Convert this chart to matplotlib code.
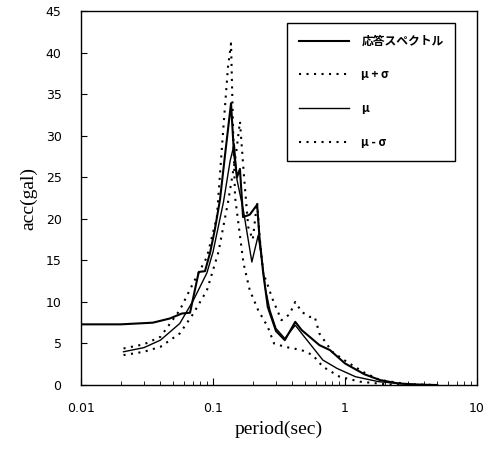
import numpy as np
import matplotlib
matplotlib.use("Agg")
import matplotlib.pyplot as plt
from matplotlib.ticker import FixedLocator, LogLocator, NullFormatter

# observed response spectrum
spec_T = [0.01, 0.02, 0.035, 0.047, 0.058, 0.067, 0.078, 0.087, 0.095, 0.103,
          0.113, 0.123, 0.137, 0.144, 0.152, 0.16, 0.169, 0.19, 0.216, 0.225,
          0.24, 0.26, 0.3, 0.35, 0.42, 0.47, 0.54, 0.64, 0.77, 1.0, 1.4, 1.84,
          2.5, 3.5, 5.0]
spec_acc = [7.3, 7.3, 7.5, 8.0, 8.6, 8.7, 13.6, 13.7, 15.9, 18.6,
            22.3, 27.5, 33.9, 28.0, 25.0, 26.0, 20.2, 20.5, 21.7, 17.8,
            13.5, 9.4, 6.5, 5.4, 7.6, 6.6, 5.8, 4.8, 4.2, 2.6, 1.3, 0.6,
            0.2, 0.05, 0.0]

# mu + sigma
up_T = [0.021, 0.03, 0.04, 0.056, 0.071, 0.09, 0.107, 0.119, 0.13, 0.137,
        0.142, 0.147, 0.16, 0.17, 0.19, 0.22, 0.26, 0.29, 0.35, 0.47, 0.57,
        0.68, 0.91, 1.3, 2.0, 3.0]
up_acc = [4.4, 4.9, 5.8, 9.0, 12.3, 15.4, 20.2, 30.3, 38.3, 41.1,
          30.7, 22.6, 18.0, 14.7, 11.4, 9.0, 7.0, 5.0, 4.6, 4.2, 3.6,
          2.2, 1.0, 0.4, 0.1, 0.0]

# mu
mu_T = [0.021, 0.03, 0.04, 0.056, 0.071, 0.09, 0.1, 0.12, 0.135, 0.145,
        0.152, 0.17, 0.197, 0.22, 0.235, 0.25, 0.27, 0.3, 0.35, 0.42, 0.47,
        0.54, 0.68, 0.87, 1.2, 1.8, 3.0, 5.0]
mu_acc = [4.0, 4.5, 5.4, 7.4, 10.2, 13.5, 16.0, 22.0, 27.0, 29.0,
          24.7, 21.0, 14.8, 18.0, 15.0, 11.5, 9.0, 6.8, 5.6, 7.2, 6.2,
          5.0, 3.0, 2.0, 1.0, 0.4, 0.1, 0.0]

# mu - sigma
lo_T = [0.021, 0.03, 0.04, 0.056, 0.071, 0.09, 0.11, 0.13, 0.15, 0.16,
        0.172, 0.185, 0.2, 0.216, 0.225, 0.24, 0.26, 0.28, 0.33, 0.38, 0.42,
        0.47, 0.54, 0.59, 0.64, 0.8, 1.03, 1.4, 1.84, 3.0, 5.0]
lo_acc = [3.6, 4.0, 4.6, 6.2, 8.6, 11.4, 16.0, 22.0, 28.0, 31.7,
          25.0, 19.0, 17.5, 22.0, 18.0, 13.5, 12.0, 10.5, 7.8, 8.5, 10.0,
          8.8, 8.2, 8.2, 6.2, 4.0, 2.8, 1.5, 0.6, 0.1, 0.0]

fig = plt.figure(figsize=(4.92, 4.51), dpi=100)
ax = fig.add_axes([0.1646, 0.1463, 0.8049, 0.8293])

dots = (0, (1, 2.6))
ax.plot(spec_T, spec_acc, c='k', lw=1.5, label='応答スペクトル')
ax.plot(up_T, up_acc, c='k', lw=1.5, ls=dots, label='μ + σ')
ax.plot(mu_T, mu_acc, c='k', lw=1.0, label='μ')
ax.plot(lo_T, lo_acc, c='k', lw=1.5, ls=dots, label='μ - σ')

ax.set_xscale('log')
ax.set_xlim(0.01, 10)
ax.set_ylim(0, 45)
ax.xaxis.set_major_locator(FixedLocator([0.01, 0.1, 1, 10]))
ax.set_xticklabels(['0.01', '0.1', '1', '10'])
ax.xaxis.set_minor_locator(LogLocator(base=10, subs=np.arange(2, 10)))
ax.xaxis.set_minor_formatter(NullFormatter())
ax.set_yticks(np.arange(0, 46, 5))

ax.tick_params(axis='both', which='both', direction='in', top=False, right=False)
ax.tick_params(axis='x', which='major', length=5, pad=12)
ax.tick_params(axis='x', which='minor', length=3)
ax.tick_params(axis='y', length=4, pad=14)
for lab in ax.get_xticklabels() + ax.get_yticklabels():
    lab.set_fontfamily('DejaVu Sans')
    lab.set_fontsize(9)

for sp in ax.spines.values():
    sp.set_linewidth(1.0)

ax.set_xlabel('period(sec)', fontfamily='Liberation Serif', fontsize=14, labelpad=4)
ax.set_ylabel('acc(gal)', fontfamily='Liberation Serif', fontsize=14, labelpad=6)

leg = ax.legend(loc='upper left', bbox_to_anchor=(0.52, 0.968),
                frameon=True, fancybox=False, edgecolor='k', framealpha=1,
                handlelength=4.3, handletextpad=1.0, labelspacing=1.75,
                borderpad=1.0, borderaxespad=0,
                prop={'family': ['Noto Sans CJK JP', 'DejaVu Sans'],
                      'size': 8.5, 'weight': 'bold'})
leg.get_frame().set_linewidth(1.0)
for t in leg.get_texts()[1:]:
    t.set_style('italic')

fig.savefig('out.png', dpi=100)
